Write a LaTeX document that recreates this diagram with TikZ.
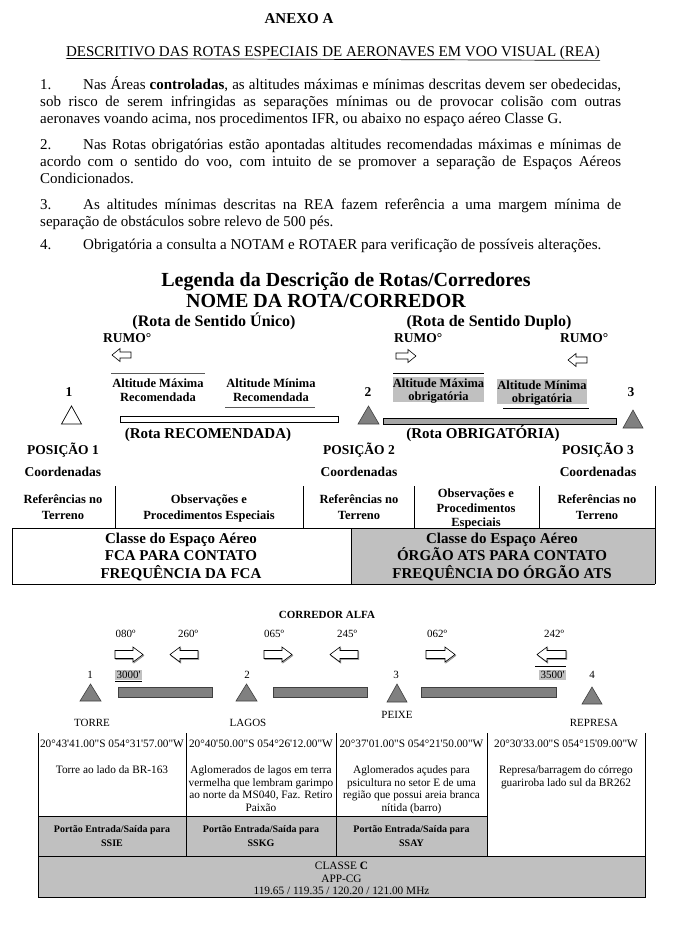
\documentclass[tikz,border=0pt]{standalone}
\usepackage{fontspec}
\setmainfont{Liberation Serif}[Ligatures=TeXOff]
\newcommand{\fs}[2]{\fontsize{#1}{#2}\selectfont}
\definecolor{lgray}{HTML}{C0C0C0}
\definecolor{mgray}{HTML}{808080}
\definecolor{bgray}{HTML}{A6A6A6}
% right-pointing hollow arrow: x0, x1, yc, shaft half, head half, head length
\newcommand{\myRA}[6]{\draw[arr] (#1,#3-#4) -- (#2-#6,#3-#4) -- (#2-#6,#3-#5) -- (#2,#3) -- (#2-#6,#3+#5) -- (#2-#6,#3+#4) -- (#1,#3+#4) -- cycle;}
\newcommand{\myLA}[6]{\draw[arr] (#2,#3-#4) -- (#1+#6,#3-#4) -- (#1+#6,#3-#5) -- (#1,#3) -- (#1+#6,#3+#5) -- (#1+#6,#3+#4) -- (#2,#3+#4) -- cycle;}
\begin{document}
\begin{tikzpicture}[x=1pt,y=-1pt,
  t/.style={inner sep=0pt, anchor=base west},
  tc/.style={inner sep=0pt, anchor=base},
  body/.style={font=\fs{15}{17}},
  lb/.style={font=\fs{12.5}{14}\bfseries},
  cor/.style={font=\fs{11}{13}},
  tab/.style={font=\fs{11.3}{13}},
  arr/.style={draw=black, fill=white, line width=0.6pt, line join=miter},
  tri/.style={draw=black!75, fill=mgray, line width=0.6pt},
  rule/.style={draw=black, line width=0.8pt}]
\useasboundingbox (0,0) rectangle (695,929);
\fill[white] (0,0) rectangle (695,929);

% ---------- header ----------
\node[tc, font=\fs{15}{17}\bfseries] (anexo) at (299,23) {ANEXO A};
\node[tc, body] (titulo) at (333,56) {DESCRITIVO DAS ROTAS ESPECIAIS DE AERONAVES EM VOO VISUAL (REA)};
\draw[line width=0.7pt] (titulo.south west) ++(0,-1) -- ([yshift=-1pt]titulo.south east);

\node[t, body] (p1a) at (40,89) {\makebox[581pt][s]{\makebox[43pt][l]{1.}Nas Áreas \textbf{controladas}, as altitudes máximas e mínimas descritas devem ser obedecidas,}};
\node[t, body] (p1b) at (40,106) {\makebox[581pt][s]{sob risco de serem infringidas as separações mínimas ou de provocar colisão com outras}};
\node[t, body] (p1c) at (40,123) {aeronaves voando acima, nos procedimentos IFR, ou abaixo no espaço aéreo Classe G.};
\node[t, body] (p2a) at (40,149) {\makebox[581pt][s]{\makebox[43pt][l]{2.}Nas Rotas obrigatórias estão apontadas altitudes recomendadas máximas e mínimas de}};
\node[t, body] (p2b) at (40,166) {\makebox[581pt][s]{acordo com o sentido do voo, com intuito de se promover a separação de Espaços Aéreos}};
\node[t, body] (p2c) at (40,183) {Condicionados.};
\node[t, body] (p3a) at (40,209) {\makebox[581pt][s]{\makebox[43pt][l]{3.}As altitudes mínimas descritas na REA fazem referência a uma margem mínima de}};
\node[t, body] (p3b) at (40,226) {separação de obstáculos sobre relevo de 500 pés.};
\node[t, body] (p4a) at (40,249) {\makebox[43pt][l]{4.}Obrigatória a consulta a NOTAM e ROTAER para verificação de possíveis alterações.};

% ---------- legend ----------
\node[tc, font=\fs{20}{22}\bfseries] (leg) at (346,286) {Legenda da Descrição de Rotas/Corredores};
\node[tc, font=\fs{20}{22}\bfseries] (nome) at (326,307) {NOME DA ROTA/CORREDOR};
\node[tc, font=\fs{16}{18}\bfseries] (unico) at (214,326) {(Rota de Sentido Único)};
\node[tc, font=\fs{16}{18}\bfseries] (duplo) at (489,326) {(Rota de Sentido Duplo)};
\node[t, font=\fs{13.5}{15}\bfseries] (rumo1) at (103,342.5) {RUMO°};
\node[t, font=\fs{13.5}{15}\bfseries] (rumo2) at (394,342.5) {RUMO°};
\node[t, font=\fs{13.5}{15}\bfseries] (rumo3) at (560,342.5) {RUMO°};
\myLA{112}{131}{355}{3}{6.5}{8}
\myRA{396}{416}{356}{3}{6.5}{8}
\myLA{568}{587}{360}{3}{6.5}{8}

% recommended altitudes
\draw[draw=black!65, line width=1pt] (111,373) -- (205,373);
\node[tc, lb] (amaxr1) at (158,387) {Altitude Máxima};
\node[tc, lb] (amaxr2) at (158,401) {Recomendada};
\node[tc, lb] (aminr1) at (271,387) {Altitude Mínima};
\node[tc, lb] (aminr2) at (271,401) {Recomendada};
\draw[draw=black!65, line width=1pt] (225,407) -- (315,407);

% mandatory altitudes
\fill[lgray] (393,377) rectangle (484,402);
\draw[line width=0.7pt] (393,373) -- (484,373);
\node[tc, lb] (amaxo1) at (438.5,387) {Altitude Máxima};
\node[tc, lb] (amaxo2) at (438.5,400) {obrigatória};
\fill[lgray] (497,379) rectangle (587,404);
\node[tc, lb] (amino1) at (542,389) {Altitude Mínima};
\node[tc, lb] (amino2) at (542,402) {obrigatória};
\draw[line width=0.7pt] (503,408) -- (589,408);

% positions
\node[tc, font=\fs{13.5}{15}\bfseries] (n1) at (69,396.5) {1};
\node[tc, font=\fs{13.5}{15}\bfseries] (n2) at (368,396.5) {2};
\node[tc, font=\fs{13.5}{15}\bfseries] (n3) at (631,396.5) {3};
\draw[line width=0.7pt, fill=white] (61.5,424) -- (71.5,406) -- (81.5,424) -- cycle;
\draw[tri] (358,424) -- (368.5,406) -- (379,424) -- cycle;
\draw[tri] (623,428) -- (633,410) -- (643,428) -- cycle;
\draw[line width=0.7pt, fill=white] (120,416) rectangle (338,422);
\draw[line width=0.7pt, fill=bgray] (383,418) rectangle (616,424);
\node[tc, font=\fs{15}{17}\bfseries] (rrec) at (208,438) {(Rota RECOMENDADA)};
\node[tc, font=\fs{15}{17}\bfseries] (robr) at (483,438) {(Rota OBRIGATÓRIA)};

\node[tc, font=\fs{13.5}{15}\bfseries] (pos1) at (63,454.5) {POSIÇÃO 1};
\node[tc, font=\fs{13.5}{15}\bfseries] (pos2) at (359,454.5) {POSIÇÃO 2};
\node[tc, font=\fs{13.5}{15}\bfseries] (pos3) at (598,454.5) {POSIÇÃO 3};
\node[tc, font=\fs{13.5}{15}\bfseries] (coo1) at (63,476) {Coordenadas};
\node[tc, font=\fs{13.5}{15}\bfseries] (coo2) at (359,476) {Coordenadas};
\node[tc, font=\fs{13.5}{15}\bfseries] (coo3) at (598,476) {Coordenadas};

% legend table
\fill[lgray] (351,528) rectangle (655,584);
\draw[rule] (115,486) -- (115,528);
\draw[rule] (303,486) -- (303,528);
\draw[rule] (414,486) -- (414,528);
\draw[rule] (539,486) -- (539,528);
\draw[rule] (655,486) -- (655,584);
\draw[rule] (12,528) -- (655,528);
\draw[rule] (12,528) -- (12,584) -- (655,584);
\draw[rule] (351,528) -- (351,584);
\node[tc, lb] (r1a) at (63,503) {Referências no};
\node[tc, lb] (r1b) at (63,519) {Terreno};
\node[tc, lb] (o1a) at (209,503) {Observações e};
\node[tc, lb] (o1b) at (209,519) {Procedimentos Especiais};
\node[tc, lb] (r2a) at (359,503) {Referências no};
\node[tc, lb] (r2b) at (359,519) {Terreno};
\node[tc, lb] (o2a) at (476,497) {Observações e};
\node[tc, lb] (o2b) at (476,512) {Procedimentos};
\node[tc, lb] (o2c) at (476,526) {Especiais};
\node[tc, lb] (r3a) at (597,503) {Referências no};
\node[tc, lb] (r3b) at (597,519) {Terreno};
\node[tc, font=\fs{15}{17}\bfseries] (ca1) at (181,543) {Classe do Espaço Aéreo};
\node[tc, font=\fs{15}{17}\bfseries] (ca2) at (181,560.5) {FCA PARA CONTATO};
\node[tc, font=\fs{15}{17}\bfseries] (ca3) at (181,578) {FREQUÊNCIA DA FCA};
\node[tc, font=\fs{15}{17}\bfseries] (cb1) at (502,543) {Classe do Espaço Aéreo};
\node[tc, font=\fs{15}{17}\bfseries] (cb2) at (502,560.5) {ÓRGÃO ATS PARA CONTATO};
\node[tc, font=\fs{15}{17}\bfseries] (cb3) at (502,578) {FREQUÊNCIA DO ÓRGÃO ATS};

% ---------- corredor alfa ----------
\node[tc, font=\fs{11}{13}\bfseries] (alfa) at (327,618.6) {CORREDOR ALFA};
\node[tc, cor] (h1) at (125.5,637) {080º};
\node[tc, cor] (h2) at (188,637) {260º};
\node[tc, cor] (h3) at (274,637) {065º};
\node[tc, cor] (h4) at (347,637) {245º};
\node[tc, cor] (h5) at (437,637) {062º};
\node[tc, cor] (h6) at (554,637) {242º};
\begin{scope}[arr/.style={draw=black!45, fill=black!30, line width=0.6pt}]
\myRA{115.8}{143.8}{655.6}{4}{7.5}{10}
\myLA{170.8}{198.8}{655.6}{4}{7.5}{10}
\myRA{264.8}{292.8}{655.6}{4}{7.5}{10}
\myLA{330.8}{358.8}{655.6}{4}{7.5}{10}
\myRA{426.8}{455.8}{655.6}{4}{7.5}{10}
\myLA{537.8}{566.8}{655.6}{4}{7.5}{10}
\end{scope}
\myRA{115}{143}{654.5}{4}{7.5}{10}
\myLA{170}{198}{654.5}{4}{7.5}{10}
\myRA{264}{292}{654.5}{4}{7.5}{10}
\myLA{330}{358}{654.5}{4}{7.5}{10}
\myRA{426}{455}{654.5}{4}{7.5}{10}
\myLA{537}{566}{654.5}{4}{7.5}{10}

\draw[line width=0.7pt] (535,666) -- (566,666);
\fill[lgray] (115,670) rectangle (142,680);
\fill[lgray] (539,670) rectangle (566,680);
\node[tc, cor] (alt1) at (128.5,678.5) {3000'};
\draw[line width=0.6pt] (115,681) -- (142,681);
\node[tc, cor] (alt2) at (552.5,678.5) {3500'};
\node[tc, cor] (c1) at (90,678.5) {1};
\node[tc, cor] (c2) at (247,678.5) {2};
\node[tc, cor] (c3) at (396,678.5) {3};
\node[tc, cor] (c4) at (592,678.5) {4};
\draw[tri] (80,701) -- (90.5,684) -- (101,701) -- cycle;
\draw[tri] (236,701) -- (246.5,684) -- (257,701) -- cycle;
\draw[tri] (387,702) -- (397,684) -- (407,702) -- cycle;
\draw[tri] (582,704) -- (592,687) -- (602,704) -- cycle;
\draw[tri] (118,687) rectangle (212,697);
\draw[tri] (273,687) rectangle (367,697);
\draw[tri] (421,687) rectangle (556,697);
\node[tc, cor] (torre) at (92,726.6) {TORRE};
\node[tc, cor] (lagos) at (248,726.6) {LAGOS};
\node[tc, cor] (peixe) at (397,718.6) {PEIXE};
\node[tc, cor] (represa) at (594,726.6) {REPRESA};

% ---------- corridor table ----------
\fill[lgray] (38,816) rectangle (487,856);
\fill[lgray] (38,856) rectangle (645,897);
\draw[rule] (38,733) -- (38,897) -- (645,897) -- (645,733);
\draw[rule] (186,733) -- (186,856);
\draw[rule] (336,733) -- (336,856);
\draw[rule] (487,733) -- (487,856);
\draw[rule] (38,816) -- (487,816);
\draw[rule] (38,856) -- (645,856);

\node[tc, tab] (k1) at (112,747) {20°43'41.00"S 054°31'57.00"W};
\node[tc, tab] (k2) at (261,747) {20°40'50.00"S 054°26'12.00"W};
\node[tc, tab] (k3) at (411.5,747) {20°37'01.00"S 054°21'50.00"W};
\node[tc, tab] (k4) at (566,747) {20°30'33.00"S 054°15'09.00"W};

\node[tc, tab] (d1a) at (112,773) {Torre ao lado da BR-163};
\node[tc, tab] (d2a) at (261,773) {Aglomerados de lagos em terra};
\node[tc, tab] (d2b) at (261,786) {vermelha que lembram garimpo};
\node[tc, tab] (d2c) at (261,798.5) {ao norte da MS040, Faz. Retiro};
\node[tc, tab] (d2d) at (261,811) {Paixão};
\node[tc, tab] (d3a) at (411.5,773) {Aglomerados açudes para};
\node[tc, tab] (d3b) at (411.5,786) {psicultura no setor E de uma};
\node[tc, tab] (d3c) at (411.5,798.5) {região que possui areia branca};
\node[tc, tab] (d3d) at (411.5,811) {nítida (barro)};
\node[tc, tab] (d4a) at (566,773) {Represa/barragem do córrego};
\node[tc, tab] (d4b) at (566,786) {guariroba lado sul da BR262};

\node[tc, tab, font=\bfseries] (g1a) at (112,832) {Portão Entrada/Saída para};
\node[tc, tab, font=\bfseries] (g1b) at (112,846) {SSIE};
\node[tc, tab, font=\bfseries] (g2a) at (261,832) {Portão Entrada/Saída para};
\node[tc, tab, font=\bfseries] (g2b) at (261,846) {SSKG};
\node[tc, tab, font=\bfseries] (g3a) at (411.5,832) {Portão Entrada/Saída para};
\node[tc, tab, font=\bfseries] (g3b) at (411.5,846) {SSAY};

\node[tc, tab] (cl1) at (341.5,869) {CLASSE \textbf{C}};
\node[tc, tab] (cl2) at (341.5,882) {APP-CG};
\node[tc, tab] (cl3) at (341.5,894.5) {119.65 / 119.35 / 120.20 / 121.00 MHz};
\end{tikzpicture}
\end{document}
